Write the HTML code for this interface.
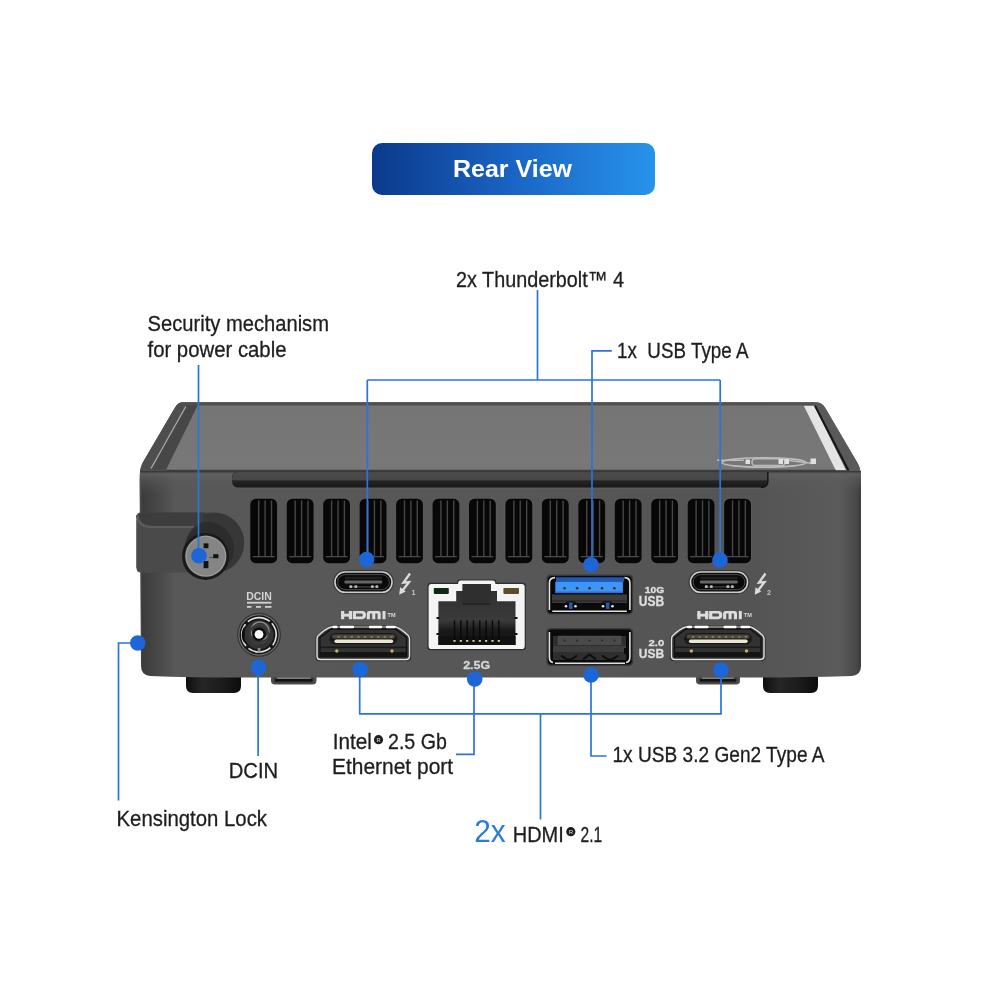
<!DOCTYPE html>
<html><head><meta charset="utf-8">
<style>
html,body{margin:0;padding:0;background:#fff;width:1000px;height:1000px;overflow:hidden}
svg{display:block;will-change:transform}
text{font-family:"Liberation Sans",sans-serif}
</style></head>
<body>
<svg width="1000" height="1000" viewBox="0 0 1000 1000">
<defs>
<linearGradient id="btn" x1="0" y1="0" x2="1" y2="0">
<stop offset="0" stop-color="#0b3a8b"/><stop offset="0.5" stop-color="#1a64c4"/><stop offset="1" stop-color="#2793eb"/>
</linearGradient>
<linearGradient id="face" x1="0" y1="0" x2="1" y2="0">
<stop offset="0" stop-color="#555"/><stop offset="0.004" stop-color="#3c3c3c"/><stop offset="0.025" stop-color="#474747"/><stop offset="0.05" stop-color="#585858"/>
<stop offset="0.5" stop-color="#575757"/><stop offset="0.85" stop-color="#545454"/>
<stop offset="0.97" stop-color="#5b5b5b"/><stop offset="0.992" stop-color="#4a4a4a"/><stop offset="1" stop-color="#3c3c3c"/>
</linearGradient>
<linearGradient id="faceV" x1="0" y1="0" x2="0" y2="1">
<stop offset="0" stop-color="#000" stop-opacity="0"/><stop offset="0.92" stop-color="#000" stop-opacity="0"/><stop offset="1" stop-color="#000" stop-opacity="0.12"/>
</linearGradient>
<linearGradient id="fillet" x1="0" y1="0" x2="0" y2="1">
<stop offset="0" stop-color="#2e2e2e" stop-opacity="0.9"/><stop offset="0.12" stop-color="#626262" stop-opacity="0.8"/><stop offset="0.45" stop-color="#5c5c5c" stop-opacity="0.45"/><stop offset="1" stop-color="#5a5a5a" stop-opacity="0"/>
</linearGradient>
<linearGradient id="rim" x1="0" y1="0" x2="1" y2="0">
<stop offset="0" stop-color="#4e4e4e"/><stop offset="0.5" stop-color="#505050"/><stop offset="1" stop-color="#5a5a5a"/>
</linearGradient>
<linearGradient id="topp" x1="0" y1="0" x2="0" y2="1">
<stop offset="0" stop-color="#757575"/><stop offset="1" stop-color="#787878"/>
</linearGradient>
<linearGradient id="foot" x1="0" y1="0" x2="1" y2="0">
<stop offset="0" stop-color="#0e0e0e"/><stop offset="0.3" stop-color="#262626"/><stop offset="0.7" stop-color="#1a1a1a"/><stop offset="1" stop-color="#0c0c0c"/>
</linearGradient>
<linearGradient id="ledge" x1="0" y1="0" x2="0" y2="1">
<stop offset="0" stop-color="#4c4c4c"/><stop offset="0.5" stop-color="#474747"/><stop offset="0.6" stop-color="#242424"/><stop offset="1" stop-color="#181818"/>
</linearGradient>
<linearGradient id="rj" x1="0" y1="0" x2="0" y2="1">
<stop offset="0" stop-color="#2e2e2e"/><stop offset="0.6" stop-color="#3a3a3a"/><stop offset="0.75" stop-color="#1a1a1a"/><stop offset="1" stop-color="#111"/>
</linearGradient>
</defs>

<rect x="372" y="143" width="283" height="52" rx="10" fill="url(#btn)"/>
<text x="453" y="177" font-size="24.5" font-weight="bold" fill="#fff" textLength="119" lengthAdjust="spacingAndGlyphs">Rear View</text>
<path d="M186 670 H241 V686 Q241 693 234 693 H193 Q186 693 186 686 Z" fill="url(#foot)"/>
<path d="M763 670 H818 V686 Q818 693 811 693 H770 Q763 693 763 686 Z" fill="url(#foot)"/>
<rect x="271" y="668" width="45.5" height="16.6" rx="3.8" fill="#4e4e4e"/>
<rect x="273.5" y="676.5" width="40.5" height="6.2" rx="3" fill="#3a3a3a"/>
<rect x="275" y="679" width="37.5" height="2.6" rx="1.2" fill="#121212"/>
<rect x="277" y="677.3" width="33.5" height="1.4" fill="#9a9a9a"/>
<rect x="696" y="668" width="44" height="16.6" rx="3.8" fill="#4e4e4e"/>
<rect x="698.5" y="676.5" width="39" height="6.2" rx="3" fill="#3a3a3a"/>
<rect x="700" y="679" width="36" height="2.6" rx="1.2" fill="#121212"/>
<rect x="702" y="677.3" width="32" height="1.4" fill="#9a9a9a"/>
<path d="M183 402.3 L815 402.3 Q822 402.3 825 407.5 L857.5 463 Q861 469 861 480 L861 666 Q861 675 852 676 Q800 677.5 760 677.5 L240 677.5 Q190 677.5 150 676 Q141 675 141 666 L139.5 480 Q139.5 469 142.5 463 L175 407.5 Q178 402.3 183 402.3 Z" fill="url(#face)"/>
<path d="M183 402.3 L815 402.3 Q822 402.3 825 407.5 L857.5 463 Q860 467 860.5 471 L140 471 Q140.5 467 142.5 463 L175 407.5 Q178 402.3 183 402.3 Z" fill="url(#rim)"/>
<path d="M186.5 405.6 L197.6 405.6 L166 470 L151 470 Z" fill="#474747"/>
<path d="M197.6 405.6 L803.8 405.6 L835.5 470 L166 470 Z" fill="url(#topp)"/>
<path d="M183 404 L815 404" stroke="#505050" stroke-width="1.4"/>
<path d="M185.8 406.5 L151 468.5" stroke="#a8a8a8" stroke-width="1.3"/>
<path d="M803.8 405.8 L814.2 405.8 L846 470 L835.5 470 Z" fill="#e4e4e4"/>
<path d="M815 405.8 L848.5 470.5" stroke="#161616" stroke-width="2"/>
<g fill="none" stroke="#bcbcbc" stroke-width="1.6"><ellipse cx="764" cy="462.5" rx="42" ry="4.8"/><rect x="752" y="458.8" width="33" height="6.8" rx="3.4"/><path d="M717 460.3 H744 M789 460.5 L813 463.5"/></g>
<g fill="#e0e0e0"><rect x="745.5" y="459.5" width="4.5" height="4.5"/><rect x="778.5" y="459" width="4.5" height="5"/><rect x="784.5" y="459" width="4.5" height="5"/><rect x="810.5" y="458.5" width="5.5" height="5.5"/></g>
<path d="M140 471 H861 V494 H140 Z" fill="url(#fillet)"/>
<path d="M166 470.3 H836" stroke="#3e3e3e" stroke-width="1.3"/>
<path d="M239 471.3 H768.5 V481 Q768.5 487.6 761 487.6 H239 Q232 487.6 232 481 V478 Q232 471.3 239 471.3 Z" fill="url(#ledge)"/>
<path d="M232.5 478 Q232.5 471.6 239 471.6 H768" fill="none" stroke="#3a3a3a" stroke-width="1"/>
<path d="M767.8 472 V481 Q767.8 487.4 761 487.4" fill="none" stroke="#141414" stroke-width="1.4"/>
<path d="M238 488.6 H761" stroke="#5e5e5e" stroke-width="0.8"/>
<rect x="249.30" y="497.8" width="28.8" height="66.4" rx="6.5" fill="#5a5a5a"/>
<rect x="250.30" y="498.8" width="26.8" height="64.4" rx="5.5" fill="#070707"/>
<rect x="258.00" y="500.5" width="1.4" height="55.5" fill="#474747"/>
<rect x="264.40" y="500.5" width="1.4" height="55.5" fill="#474747"/>
<rect x="270.80" y="500.5" width="1.4" height="55.5" fill="#474747"/>
<rect x="252.80" y="556" width="21.8" height="1.3" fill="#4a4a4a"/>
<rect x="285.75" y="497.8" width="28.8" height="66.4" rx="6.5" fill="#5a5a5a"/>
<rect x="286.75" y="498.8" width="26.8" height="64.4" rx="5.5" fill="#070707"/>
<rect x="294.45" y="500.5" width="1.4" height="55.5" fill="#474747"/>
<rect x="300.85" y="500.5" width="1.4" height="55.5" fill="#474747"/>
<rect x="307.25" y="500.5" width="1.4" height="55.5" fill="#474747"/>
<rect x="289.25" y="556" width="21.8" height="1.3" fill="#4a4a4a"/>
<rect x="322.20" y="497.8" width="28.8" height="66.4" rx="6.5" fill="#5a5a5a"/>
<rect x="323.20" y="498.8" width="26.8" height="64.4" rx="5.5" fill="#070707"/>
<rect x="330.90" y="500.5" width="1.4" height="55.5" fill="#474747"/>
<rect x="337.30" y="500.5" width="1.4" height="55.5" fill="#474747"/>
<rect x="343.70" y="500.5" width="1.4" height="55.5" fill="#474747"/>
<rect x="325.70" y="556" width="21.8" height="1.3" fill="#4a4a4a"/>
<rect x="358.65" y="497.8" width="28.8" height="66.4" rx="6.5" fill="#5a5a5a"/>
<rect x="359.65" y="498.8" width="26.8" height="64.4" rx="5.5" fill="#070707"/>
<rect x="367.35" y="500.5" width="1.4" height="55.5" fill="#474747"/>
<rect x="373.75" y="500.5" width="1.4" height="55.5" fill="#474747"/>
<rect x="380.15" y="500.5" width="1.4" height="55.5" fill="#474747"/>
<rect x="362.15" y="556" width="21.8" height="1.3" fill="#4a4a4a"/>
<rect x="395.10" y="497.8" width="28.8" height="66.4" rx="6.5" fill="#5a5a5a"/>
<rect x="396.10" y="498.8" width="26.8" height="64.4" rx="5.5" fill="#070707"/>
<rect x="403.80" y="500.5" width="1.4" height="55.5" fill="#474747"/>
<rect x="410.20" y="500.5" width="1.4" height="55.5" fill="#474747"/>
<rect x="416.60" y="500.5" width="1.4" height="55.5" fill="#474747"/>
<rect x="398.60" y="556" width="21.8" height="1.3" fill="#4a4a4a"/>
<rect x="431.55" y="497.8" width="28.8" height="66.4" rx="6.5" fill="#5a5a5a"/>
<rect x="432.55" y="498.8" width="26.8" height="64.4" rx="5.5" fill="#070707"/>
<rect x="440.25" y="500.5" width="1.4" height="55.5" fill="#474747"/>
<rect x="446.65" y="500.5" width="1.4" height="55.5" fill="#474747"/>
<rect x="453.05" y="500.5" width="1.4" height="55.5" fill="#474747"/>
<rect x="435.05" y="556" width="21.8" height="1.3" fill="#4a4a4a"/>
<rect x="468.00" y="497.8" width="28.8" height="66.4" rx="6.5" fill="#5a5a5a"/>
<rect x="469.00" y="498.8" width="26.8" height="64.4" rx="5.5" fill="#070707"/>
<rect x="476.70" y="500.5" width="1.4" height="55.5" fill="#474747"/>
<rect x="483.10" y="500.5" width="1.4" height="55.5" fill="#474747"/>
<rect x="489.50" y="500.5" width="1.4" height="55.5" fill="#474747"/>
<rect x="471.50" y="556" width="21.8" height="1.3" fill="#4a4a4a"/>
<rect x="504.45" y="497.8" width="28.8" height="66.4" rx="6.5" fill="#5a5a5a"/>
<rect x="505.45" y="498.8" width="26.8" height="64.4" rx="5.5" fill="#070707"/>
<rect x="513.15" y="500.5" width="1.4" height="55.5" fill="#474747"/>
<rect x="519.55" y="500.5" width="1.4" height="55.5" fill="#474747"/>
<rect x="525.95" y="500.5" width="1.4" height="55.5" fill="#474747"/>
<rect x="507.95" y="556" width="21.8" height="1.3" fill="#4a4a4a"/>
<rect x="540.90" y="497.8" width="28.8" height="66.4" rx="6.5" fill="#5a5a5a"/>
<rect x="541.90" y="498.8" width="26.8" height="64.4" rx="5.5" fill="#070707"/>
<rect x="549.60" y="500.5" width="1.4" height="55.5" fill="#474747"/>
<rect x="556.00" y="500.5" width="1.4" height="55.5" fill="#474747"/>
<rect x="562.40" y="500.5" width="1.4" height="55.5" fill="#474747"/>
<rect x="544.40" y="556" width="21.8" height="1.3" fill="#4a4a4a"/>
<rect x="577.35" y="497.8" width="28.8" height="66.4" rx="6.5" fill="#5a5a5a"/>
<rect x="578.35" y="498.8" width="26.8" height="64.4" rx="5.5" fill="#070707"/>
<rect x="586.05" y="500.5" width="1.4" height="55.5" fill="#474747"/>
<rect x="592.45" y="500.5" width="1.4" height="55.5" fill="#474747"/>
<rect x="598.85" y="500.5" width="1.4" height="55.5" fill="#474747"/>
<rect x="580.85" y="556" width="21.8" height="1.3" fill="#4a4a4a"/>
<rect x="613.80" y="497.8" width="28.8" height="66.4" rx="6.5" fill="#5a5a5a"/>
<rect x="614.80" y="498.8" width="26.8" height="64.4" rx="5.5" fill="#070707"/>
<rect x="622.50" y="500.5" width="1.4" height="55.5" fill="#474747"/>
<rect x="628.90" y="500.5" width="1.4" height="55.5" fill="#474747"/>
<rect x="635.30" y="500.5" width="1.4" height="55.5" fill="#474747"/>
<rect x="617.30" y="556" width="21.8" height="1.3" fill="#4a4a4a"/>
<rect x="650.25" y="497.8" width="28.8" height="66.4" rx="6.5" fill="#5a5a5a"/>
<rect x="651.25" y="498.8" width="26.8" height="64.4" rx="5.5" fill="#070707"/>
<rect x="658.95" y="500.5" width="1.4" height="55.5" fill="#474747"/>
<rect x="665.35" y="500.5" width="1.4" height="55.5" fill="#474747"/>
<rect x="671.75" y="500.5" width="1.4" height="55.5" fill="#474747"/>
<rect x="653.75" y="556" width="21.8" height="1.3" fill="#4a4a4a"/>
<rect x="686.70" y="497.8" width="28.8" height="66.4" rx="6.5" fill="#5a5a5a"/>
<rect x="687.70" y="498.8" width="26.8" height="64.4" rx="5.5" fill="#070707"/>
<rect x="695.40" y="500.5" width="1.4" height="55.5" fill="#474747"/>
<rect x="701.80" y="500.5" width="1.4" height="55.5" fill="#474747"/>
<rect x="708.20" y="500.5" width="1.4" height="55.5" fill="#474747"/>
<rect x="690.20" y="556" width="21.8" height="1.3" fill="#4a4a4a"/>
<rect x="723.15" y="497.8" width="28.8" height="66.4" rx="6.5" fill="#5a5a5a"/>
<rect x="724.15" y="498.8" width="26.8" height="64.4" rx="5.5" fill="#070707"/>
<rect x="731.85" y="500.5" width="1.4" height="55.5" fill="#474747"/>
<rect x="738.25" y="500.5" width="1.4" height="55.5" fill="#474747"/>
<rect x="744.65" y="500.5" width="1.4" height="55.5" fill="#474747"/>
<rect x="726.65" y="556" width="21.8" height="1.3" fill="#4a4a4a"/>
<path d="M136.5 517 Q136.5 512.6 141 512.6 L212 512.6 L212 572.6 L141 572.6 Q136.5 572.6 136.5 568 Z" fill="#4a4a4a"/>
<path d="M141 512.6 L205 512.6 L205 526 L152 526 Q140 526 139 515 Z" fill="#3d3d3d"/>
<path d="M137 515 Q137.5 526 150 527 L206 527" fill="none" stroke="#5c5c5c" stroke-width="2.2"/>
<path d="M136.8 520 V568" stroke="#5a5a5a" stroke-width="1"/>
<path d="M203 514.6 A30 30 0 0 1 225 571 L205.5 556.4 L186 541 Q189 527 203 521 Z" fill="#373737"/>
<path d="M204 522 A27 27 0 0 1 226 568 L205.5 556.4 L184 548 Q187 530 204 522 Z" fill="#2c2c2c"/>
<path d="M184 550 A25.2 25.2 0 0 1 229 562 L205.5 556.4 Z" fill="#34302c"/>
<circle cx="205.5" cy="556.4" r="23.5" fill="#1a1a1a"/>
<circle cx="205.8" cy="556.2" r="20.6" fill="#9a9a9a"/>
<circle cx="205.8" cy="556.2" r="19.2" fill="#858585"/>
<rect x="203.6" y="543.4" width="4.8" height="4.8" fill="#111"/>
<rect x="213.2" y="554.2" width="5.2" height="4" fill="#111"/>
<rect x="209.5" y="557" width="3.7" height="0.9" fill="#444"/>
<rect x="203.6" y="561" width="4.8" height="7.2" fill="#111"/>
<text x="259" y="600.2" font-size="10.4" font-weight="bold" fill="#d2d2d2" text-anchor="middle" textLength="25.7" lengthAdjust="spacingAndGlyphs">DCIN</text>
<rect x="247" y="601.8" width="24.5" height="1.8" fill="#d2d2d2"/>
<path d="M247 606.8 H251.5 M256 606.8 H261 M265 606.8 H271.5" stroke="#d2d2d2" stroke-width="1.8"/>
<circle cx="259" cy="634.8" r="22" fill="#383838"/>
<circle cx="259" cy="634.8" r="20.6" fill="#7a7a7a"/>
<circle cx="259" cy="634.8" r="19.6" fill="#161616"/>
<circle cx="259" cy="634.8" r="17.2" fill="none" stroke="#e4e4e4" stroke-width="1.6" stroke-dasharray="23.5 3.5" transform="rotate(-42 259 634.8)"/>
<circle cx="259" cy="634.8" r="14.5" fill="#333"/>
<path d="M244.5 626 A15 15 0 0 0 244.5 643.6 Z" fill="#0a0a0a"/>
<circle cx="260" cy="631" r="9" fill="none" stroke="#8a8a8a" stroke-width="1.5"/>
<circle cx="259" cy="634.3" r="9.5" fill="none" stroke="#3c3c3c" stroke-width="2"/>
<circle cx="259" cy="634.3" r="6.8" fill="#0c0c0c"/>
<circle cx="259" cy="634.3" r="4.4" fill="#fafafa"/>
<rect x="257.8" y="648" width="2.6" height="4" fill="#8a8a8a"/>
<rect x="333" y="570" width="61" height="24.3" rx="12.1" fill="#3a3a3a"/>
<rect x="335" y="572" width="57" height="20.3" rx="10.15" fill="#0a0a0a" stroke="#cdcdcd" stroke-width="1.6"/>
<rect x="337.6" y="574.6" width="51.8" height="15.1" rx="7.5" fill="none" stroke="#555" stroke-width="0.9"/>
<rect x="345" y="576.8" width="37" height="2.4" fill="#1e1e1e"/>
<rect x="344.4" y="580.6" width="37.8" height="2.8" rx="1.2" fill="#666"/>
<rect x="350" y="586.5" width="27" height="0.9" fill="#555"/>
<rect x="349.3" y="585.3" width="3" height="2.6" rx="1" fill="#b8b8b8"/>
<rect x="354.3" y="585.3" width="3" height="2.6" rx="1" fill="#b8b8b8"/>
<rect x="370.9" y="585.3" width="3" height="2.6" rx="1" fill="#b8b8b8"/>
<rect x="375.4" y="585.3" width="3" height="2.6" rx="1" fill="#b8b8b8"/>
<path d="M410.0 573.5 L403.5 582.6 L409.0 582.1 L402.7 590.3" fill="none" stroke="#dcdcdc" stroke-width="2.3" stroke-linejoin="miter" stroke-linecap="butt"/>
<path d="M399.2 594.8 L400.1 587.3 L405.8 591.6 Z" fill="#dcdcdc"/>
<text x="411.5" y="594.5" font-size="7.6" font-weight="bold" fill="#c8c8c8" textLength="4" lengthAdjust="spacingAndGlyphs">1</text>
<rect x="688.5" y="570" width="61" height="24.3" rx="12.1" fill="#3a3a3a"/>
<rect x="690.5" y="572" width="57" height="20.3" rx="10.15" fill="#0a0a0a" stroke="#cdcdcd" stroke-width="1.6"/>
<rect x="693.1" y="574.6" width="51.8" height="15.1" rx="7.5" fill="none" stroke="#555" stroke-width="0.9"/>
<rect x="700.5" y="576.8" width="37" height="2.4" fill="#1e1e1e"/>
<rect x="699.9" y="580.6" width="37.8" height="2.8" rx="1.2" fill="#666"/>
<rect x="705.5" y="586.5" width="27" height="0.9" fill="#555"/>
<rect x="704.8" y="585.3" width="3" height="2.6" rx="1" fill="#b8b8b8"/>
<rect x="709.8" y="585.3" width="3" height="2.6" rx="1" fill="#b8b8b8"/>
<rect x="726.4" y="585.3" width="3" height="2.6" rx="1" fill="#b8b8b8"/>
<rect x="730.9" y="585.3" width="3" height="2.6" rx="1" fill="#b8b8b8"/>
<path d="M765.5 573.5 L759.0 582.6 L764.5 582.1 L758.2 590.3" fill="none" stroke="#dcdcdc" stroke-width="2.3" stroke-linejoin="miter" stroke-linecap="butt"/>
<path d="M754.7 594.8 L755.6 587.3 L761.3 591.6 Z" fill="#dcdcdc"/>
<text x="767" y="594.5" font-size="7.6" font-weight="bold" fill="#c8c8c8" textLength="4" lengthAdjust="spacingAndGlyphs">2</text>
<g fill="#dcdcdc">
<rect x="341.00" y="611" width="3.2" height="8.2"/><rect x="348.80" y="611" width="3.2" height="8.2"/><rect x="341.00" y="613.7" width="11" height="2.9"/>
<path fill-rule="evenodd" d="M352.80 611 H362.00 Q366.00 611 366.00 615.1 Q366.00 619.2 362.00 619.2 H352.80 Z M356.00 613.6 H361.50 Q362.80 613.6 362.80 615.1 Q362.80 616.6 361.50 616.6 H356.00 Z"/>
<path d="M366.80 619.2 V613.4 Q366.80 611 369.20 611 H378.30 Q380.70 611 380.70 613.4 V619.2 H377.60 V613.6 H375.30 V619.2 H372.20 V613.6 H369.90 V619.2 Z"/>
<rect x="382.50" y="611" width="3" height="8.2"/>
</g>
<text x="387.50" y="616.6" font-size="6.2" font-weight="bold" fill="#dcdcdc" textLength="8" lengthAdjust="spacingAndGlyphs">TM</text>
<g fill="#dcdcdc">
<rect x="697.30" y="611" width="3.2" height="8.2"/><rect x="705.10" y="611" width="3.2" height="8.2"/><rect x="697.30" y="613.7" width="11" height="2.9"/>
<path fill-rule="evenodd" d="M709.10 611 H718.30 Q722.30 611 722.30 615.1 Q722.30 619.2 718.30 619.2 H709.10 Z M712.30 613.6 H717.80 Q719.10 613.6 719.10 615.1 Q719.10 616.6 717.80 616.6 H712.30 Z"/>
<path d="M723.10 619.2 V613.4 Q723.10 611 725.50 611 H734.60 Q737.00 611 737.00 613.4 V619.2 H733.90 V613.6 H731.60 V619.2 H728.50 V613.6 H726.20 V619.2 Z"/>
<rect x="738.80" y="611" width="3" height="8.2"/>
</g>
<text x="743.80" y="616.6" font-size="6.2" font-weight="bold" fill="#dcdcdc" textLength="8" lengthAdjust="spacingAndGlyphs">TM</text>
<path d="M330.00 625.5 L397.20 625.5 L409.80 635.2 Q411.20 636.5 411.20 639 L411.20 657 Q411.20 661.2 407.00 661.2 L319.60 661.2 Q315.40 661.2 315.40 657 L315.40 639 Q315.40 636.5 317.00 635 Z" fill="#343434"/>
<path d="M331.00 627 L396.20 627 C399.00 628 404.00 631.5 408.50 635.8 Q409.50 637.5 409.50 639 L409.50 656 Q409.50 659.5 406.00 659.5 L320.50 659.5 Q317.00 659.5 317.00 656 L317.00 640 Q317.00 637.5 317.70 636.2 C322.50 631.5 327.50 628 331.00 627 Z" fill="#333" stroke="#e0e0e0" stroke-width="1.4" stroke-linejoin="round"/>
<path d="M331.50 629 L395.50 629 L406.50 637.5 L406.50 656.5 L320.00 656.5 L320.00 637.5 Z" fill="none" stroke="#111" stroke-width="1.3"/>
<rect x="329.60" y="633" width="67.8" height="11.4" rx="5.7" fill="#1a1a1a"/>
<rect x="332.00" y="634.6" width="63" height="4" rx="2" fill="#4a4a40"/>
<rect x="334.40" y="639.4" width="58.8" height="3.6" rx="1.8" fill="#ebe6d2"/>
<rect x="337.5" y="636" width="2.2" height="1.8" fill="#8c7c48"/>
<rect x="344.1" y="636" width="2.2" height="1.8" fill="#8c7c48"/>
<rect x="350.7" y="636" width="2.2" height="1.8" fill="#8c7c48"/>
<rect x="357.3" y="636" width="2.2" height="1.8" fill="#8c7c48"/>
<rect x="363.9" y="636" width="2.2" height="1.8" fill="#8c7c48"/>
<rect x="370.5" y="636" width="2.2" height="1.8" fill="#8c7c48"/>
<rect x="377.1" y="636" width="2.2" height="1.8" fill="#8c7c48"/>
<rect x="383.7" y="636" width="2.2" height="1.8" fill="#8c7c48"/>
<rect x="390.3" y="636" width="2.2" height="1.8" fill="#8c7c48"/>
<rect x="320.00" y="646.5" width="86.5" height="1.6" fill="#1a1a1a"/>
<rect x="320.00" y="652" width="86.5" height="4.5" fill="#141414"/>
<circle cx="336.80" cy="651" r="1.7" fill="#c9b060"/>
<circle cx="392.00" cy="651" r="1.7" fill="#c9b060"/>
<path d="M333.50 627 H336.50 M341.00 627 H353.00 M370.00 627 H381.00 M387.00 627 H394.50" stroke="#ffffff" stroke-width="2.4" stroke-linecap="round"/>
<path d="M337.50 627 H340.00 M354.00 627 H369.00 M382.00 627 H386.00" stroke="#6a6a60" stroke-width="1.6"/>
<path d="M684.50 625.5 L751.70 625.5 L764.30 635.2 Q765.70 636.5 765.70 639 L765.70 657 Q765.70 661.2 761.50 661.2 L674.10 661.2 Q669.90 661.2 669.90 657 L669.90 639 Q669.90 636.5 671.50 635 Z" fill="#343434"/>
<path d="M685.50 627 L750.70 627 C753.50 628 758.50 631.5 763.00 635.8 Q764.00 637.5 764.00 639 L764.00 656 Q764.00 659.5 760.50 659.5 L675.00 659.5 Q671.50 659.5 671.50 656 L671.50 640 Q671.50 637.5 672.20 636.2 C677.00 631.5 682.00 628 685.50 627 Z" fill="#333" stroke="#e0e0e0" stroke-width="1.4" stroke-linejoin="round"/>
<path d="M686.00 629 L750.00 629 L761.00 637.5 L761.00 656.5 L674.50 656.5 L674.50 637.5 Z" fill="none" stroke="#111" stroke-width="1.3"/>
<rect x="684.10" y="633" width="67.8" height="11.4" rx="5.7" fill="#1a1a1a"/>
<rect x="686.50" y="634.6" width="63" height="4" rx="2" fill="#4a4a40"/>
<rect x="688.90" y="639.4" width="58.8" height="3.6" rx="1.8" fill="#ebe6d2"/>
<rect x="692.0" y="636" width="2.2" height="1.8" fill="#8c7c48"/>
<rect x="698.6" y="636" width="2.2" height="1.8" fill="#8c7c48"/>
<rect x="705.2" y="636" width="2.2" height="1.8" fill="#8c7c48"/>
<rect x="711.8" y="636" width="2.2" height="1.8" fill="#8c7c48"/>
<rect x="718.4" y="636" width="2.2" height="1.8" fill="#8c7c48"/>
<rect x="725.0" y="636" width="2.2" height="1.8" fill="#8c7c48"/>
<rect x="731.6" y="636" width="2.2" height="1.8" fill="#8c7c48"/>
<rect x="738.2" y="636" width="2.2" height="1.8" fill="#8c7c48"/>
<rect x="744.8" y="636" width="2.2" height="1.8" fill="#8c7c48"/>
<rect x="674.50" y="646.5" width="86.5" height="1.6" fill="#1a1a1a"/>
<rect x="674.50" y="652" width="86.5" height="4.5" fill="#141414"/>
<circle cx="691.30" cy="651" r="1.7" fill="#c9b060"/>
<circle cx="746.50" cy="651" r="1.7" fill="#c9b060"/>
<path d="M688.00 627 H691.00 M695.50 627 H707.50 M724.50 627 H735.50 M741.50 627 H749.00" stroke="#ffffff" stroke-width="2.4" stroke-linecap="round"/>
<path d="M692.00 627 H694.50 M708.50 627 H723.50 M736.50 627 H740.50" stroke="#6a6a60" stroke-width="1.6"/>
<path d="M430.6 582.8 H457 Q457 579.5 460 579.5 H493.4 Q496.4 579.5 496.4 582.8 H522.7 Q525.9 582.8 525.9 586 V647 Q525.9 650.3 522.7 650.3 H430.6 Q427.4 650.3 427.4 647 V586 Q427.4 582.8 430.6 582.8 Z" fill="#2e2e2e"/>
<path d="M431.6 584 H458 Q458 580.6 461 580.6 H492.4 Q495.4 580.6 495.4 584 H521.7 Q524.7 584 524.7 587 V646 Q524.7 649.1 521.7 649.1 H431.6 Q428.6 649.1 428.6 646 V587 Q428.6 584 431.6 584 Z" fill="#f4f4f4"/>
<path d="M462.6 584 H490.8 V591 H497 V601.3 H515.5 V645 H438.4 V601.3 H456.2 V591 H462.6 Z" fill="url(#rj)"/>
<rect x="462.6" y="584" width="28.2" height="20.5" fill="#2f2f2f"/>
<rect x="462.6" y="603.5" width="28.2" height="1.2" fill="#222"/>
<rect x="433.8" y="588" width="15" height="5.9" rx="0.8" fill="#0e2a12"/>
<rect x="503.4" y="588" width="15.6" height="5.9" rx="0.8" fill="#5e4e28"/>
<rect x="436.5" y="617" width="3" height="2" fill="#111"/><rect x="436.5" y="633" width="3" height="2" fill="#111"/>
<rect x="514.5" y="617" width="3" height="2" fill="#111"/><rect x="514.5" y="633" width="3" height="2" fill="#111"/>
<rect x="438.4" y="636" width="77.1" height="9" fill="#111"/>
<rect x="453.80" y="620.3" width="1.4" height="20.7" fill="#090909"/>
<rect x="453.40" y="640" width="2.2" height="1.8" fill="#d8cc90"/>
<rect x="460.13" y="620.3" width="1.4" height="20.7" fill="#090909"/>
<rect x="459.73" y="640" width="2.2" height="1.8" fill="#d8cc90"/>
<rect x="466.46" y="620.3" width="1.4" height="20.7" fill="#090909"/>
<rect x="466.06" y="640" width="2.2" height="1.8" fill="#d8cc90"/>
<rect x="472.79" y="620.3" width="1.4" height="20.7" fill="#090909"/>
<rect x="472.39" y="640" width="2.2" height="1.8" fill="#d8cc90"/>
<rect x="479.12" y="620.3" width="1.4" height="20.7" fill="#090909"/>
<rect x="478.72" y="640" width="2.2" height="1.8" fill="#d8cc90"/>
<rect x="485.45" y="620.3" width="1.4" height="20.7" fill="#090909"/>
<rect x="485.05" y="640" width="2.2" height="1.8" fill="#d8cc90"/>
<rect x="491.78" y="620.3" width="1.4" height="20.7" fill="#090909"/>
<rect x="491.38" y="640" width="2.2" height="1.8" fill="#d8cc90"/>
<rect x="498.11" y="620.3" width="1.4" height="20.7" fill="#090909"/>
<rect x="497.71" y="640" width="2.2" height="1.8" fill="#d8cc90"/>
<text x="476.7" y="668.7" font-size="11.6" font-weight="bold" fill="#d6d6d6" stroke="#d6d6d6" stroke-width="0.3" text-anchor="middle" textLength="27" lengthAdjust="spacingAndGlyphs">2.5G</text>
<rect x="546.3" y="574.5" width="86.8" height="40" rx="4.5" fill="#383838"/>
<rect x="547.9" y="575.9" width="83.8" height="37.3" rx="3.5" fill="#0a0a0a"/>
<path d="M549.4 610 V583 Q549.4 577.6 555 577.6 M629.9 610 V583 Q629.9 577.6 624.5 577.6 M552.3 611.3 H626.8" fill="none" stroke="#e2e2e2" stroke-width="1.6"/>
<rect x="556" y="577.3" width="68" height="4.6" fill="#1d5ab8"/>
<rect x="555.3" y="581.8" width="67.6" height="11.3" fill="#3e95f5"/>
<path d="M555.3 593.1 H622.9 V591.6 H555.3 Z" fill="#2b6fd0"/>
<circle cx="564.6" cy="588.2" r="1.3" fill="#3b3020"/>
<circle cx="577.1" cy="588.2" r="1.3" fill="#3b3020"/>
<circle cx="589.5" cy="588.2" r="1.3" fill="#3b3020"/>
<circle cx="602.0" cy="588.2" r="1.3" fill="#3b3020"/>
<circle cx="614.4" cy="588.2" r="1.3" fill="#3b3020"/>
<rect x="552" y="594.5" width="75" height="8.5" fill="#3c3c3c"/>
<rect x="552" y="600.5" width="75" height="1" fill="#222"/>
<path d="M562 606 L568 602 H574 L580 606 M598 606 L604 602 H610 L616 606" fill="none" stroke="#111" stroke-width="1.6"/>
<rect x="569" y="602.5" width="3.5" height="6.5" fill="#2458b0"/><rect x="606" y="602.5" width="3.5" height="6.5" fill="#2458b0"/>
<circle cx="566" cy="606.3" r="1.3" fill="#e8e8e8"/><circle cx="575.5" cy="606.3" r="1.3" fill="#e8e8e8"/><circle cx="603" cy="606.3" r="1.3" fill="#e8e8e8"/><circle cx="612.5" cy="606.3" r="1.3" fill="#e8e8e8"/>
<text x="664.2" y="593.4" font-size="9.4" font-weight="bold" fill="#dedede" stroke="#dedede" stroke-width="0.35" text-anchor="end" textLength="19.5" lengthAdjust="spacingAndGlyphs">10G</text>
<text x="664.2" y="605.7" font-size="14" font-weight="bold" fill="#dedede" stroke="#dedede" stroke-width="0.35" text-anchor="end" textLength="25.4" lengthAdjust="spacingAndGlyphs">USB</text>
<rect x="546.3" y="628" width="86.8" height="38" rx="4.5" fill="#383838"/>
<rect x="547.9" y="629.4" width="83.8" height="35.2" rx="3.5" fill="#0a0a0a"/>
<path d="M549.4 632 V657 Q549.4 662 553 662.5 M629.9 632 V657 Q629.9 662 626 662.5 M555 663.2 H625" fill="none" stroke="#e0e0e0" stroke-width="1.6"/>
<rect x="553" y="636" width="73" height="24" fill="#2e2e2e"/>
<rect x="557.7" y="635.7" width="63.7" height="9.3" fill="#4a4a4a"/>
<circle cx="564.6" cy="640.5" r="1.1" fill="#2a2a2a"/>
<circle cx="577.1" cy="640.5" r="1.1" fill="#2a2a2a"/>
<circle cx="589.5" cy="640.5" r="1.1" fill="#2a2a2a"/>
<circle cx="602.0" cy="640.5" r="1.1" fill="#2a2a2a"/>
<circle cx="614.4" cy="640.5" r="1.1" fill="#2a2a2a"/>
<rect x="553" y="646" width="73" height="6" fill="#3e3e3e"/>
<path d="M561 655.5 L567 659.5 H571 L577 655.5 M583 659.5 L589.5 654.5 L596 659.5 M602 655.5 L608 659.5 H612 L618 655.5" fill="none" stroke="#0c0c0c" stroke-width="2"/>
<rect x="624" y="648" width="4" height="6" fill="#0a0a0a"/>
<text x="664.2" y="646" font-size="9.4" font-weight="bold" fill="#dedede" stroke="#dedede" stroke-width="0.35" text-anchor="end" textLength="15.6" lengthAdjust="spacingAndGlyphs">2.0</text>
<text x="664.2" y="658.4" font-size="13.3" font-weight="bold" fill="#dedede" stroke="#dedede" stroke-width="0.35" text-anchor="end" textLength="25.4" lengthAdjust="spacingAndGlyphs">USB</text>
<g stroke="#2b74d9" stroke-width="1.7" fill="none">
<path d="M198.5 365 V556"/>
<path d="M537.5 290 V380 M367.3 380 H720.2 M367.3 380 V560 M720.2 380 V560"/>
<path d="M611.8 350.8 H592 V565"/>
<path d="M138 643 H118.5 V800.4"/>
<path d="M258.1 668 V756"/>
<path d="M359.7 670 V713.9 H721 V670 M540.5 713.9 V819.6"/>
<path d="M474 679 V754.4 H456"/>
<path d="M591 675 V756 H606.6"/>
</g>
<g fill="#1d66d8">
<circle cx="199" cy="555.8" r="7.8"/>
<circle cx="366.6" cy="559.6" r="7.8"/>
<circle cx="720" cy="560" r="7.8"/>
<circle cx="591" cy="564.7" r="7.8"/>
<circle cx="137.8" cy="643" r="7.8"/>
<circle cx="258.5" cy="667.6" r="7.8"/>
<circle cx="360.2" cy="669.6" r="7.8"/>
<circle cx="721" cy="670" r="7.8"/>
<circle cx="474.7" cy="679" r="7.8"/>
<circle cx="591" cy="675" r="7.8"/>
</g>
<g fill="#1e1e1e" stroke="#1e1e1e" stroke-width="0.3" font-size="21.8">
<text x="147.5" y="331" textLength="181.5" lengthAdjust="spacingAndGlyphs">Security mechanism</text>
<text x="147.5" y="356.5" textLength="139" lengthAdjust="spacingAndGlyphs">for power cable</text>
<text x="456" y="286.7" textLength="168" lengthAdjust="spacingAndGlyphs">2x Thunderbolt™ 4</text>
<text x="617" y="357.8" textLength="131.5" lengthAdjust="spacingAndGlyphs">1x&#160; USB Type A</text>
<text x="228.7" y="778" textLength="49.5" lengthAdjust="spacingAndGlyphs">DCIN</text>
<text x="116.5" y="826.4" textLength="150.5" lengthAdjust="spacingAndGlyphs">Kensington Lock</text>
<text x="332.7" y="748.8" textLength="39.2" lengthAdjust="spacingAndGlyphs">Intel</text>
<text x="388" y="748.8" textLength="58.8" lengthAdjust="spacingAndGlyphs">2.5 Gb</text>
<text x="332" y="774" textLength="121.1" lengthAdjust="spacingAndGlyphs">Ethernet port</text>
<text x="512.7" y="841.5" textLength="51.1" lengthAdjust="spacingAndGlyphs">HDMI</text>
<text x="580.6" y="841.5" textLength="21.7" lengthAdjust="spacingAndGlyphs">2.1</text>
<text x="612.5" y="761.6" textLength="212" lengthAdjust="spacingAndGlyphs">1x USB 3.2 Gen2 Type A</text>
</g>
<text x="474.2" y="841.5" font-size="31.5" fill="#2b7bdc" textLength="31.5" lengthAdjust="spacingAndGlyphs">2x</text>
<circle cx="378.5" cy="739.7" r="4.6" fill="#1e1e1e"/>
<text x="378.6" y="741.8000000000001" font-size="5.6" fill="#f0f0f0" text-anchor="middle">R</text>
<circle cx="570.8" cy="831.7" r="4.6" fill="#1e1e1e"/>
<text x="570.9" y="833.8000000000001" font-size="5.6" fill="#f0f0f0" text-anchor="middle">R</text>
</svg>
</body></html>
